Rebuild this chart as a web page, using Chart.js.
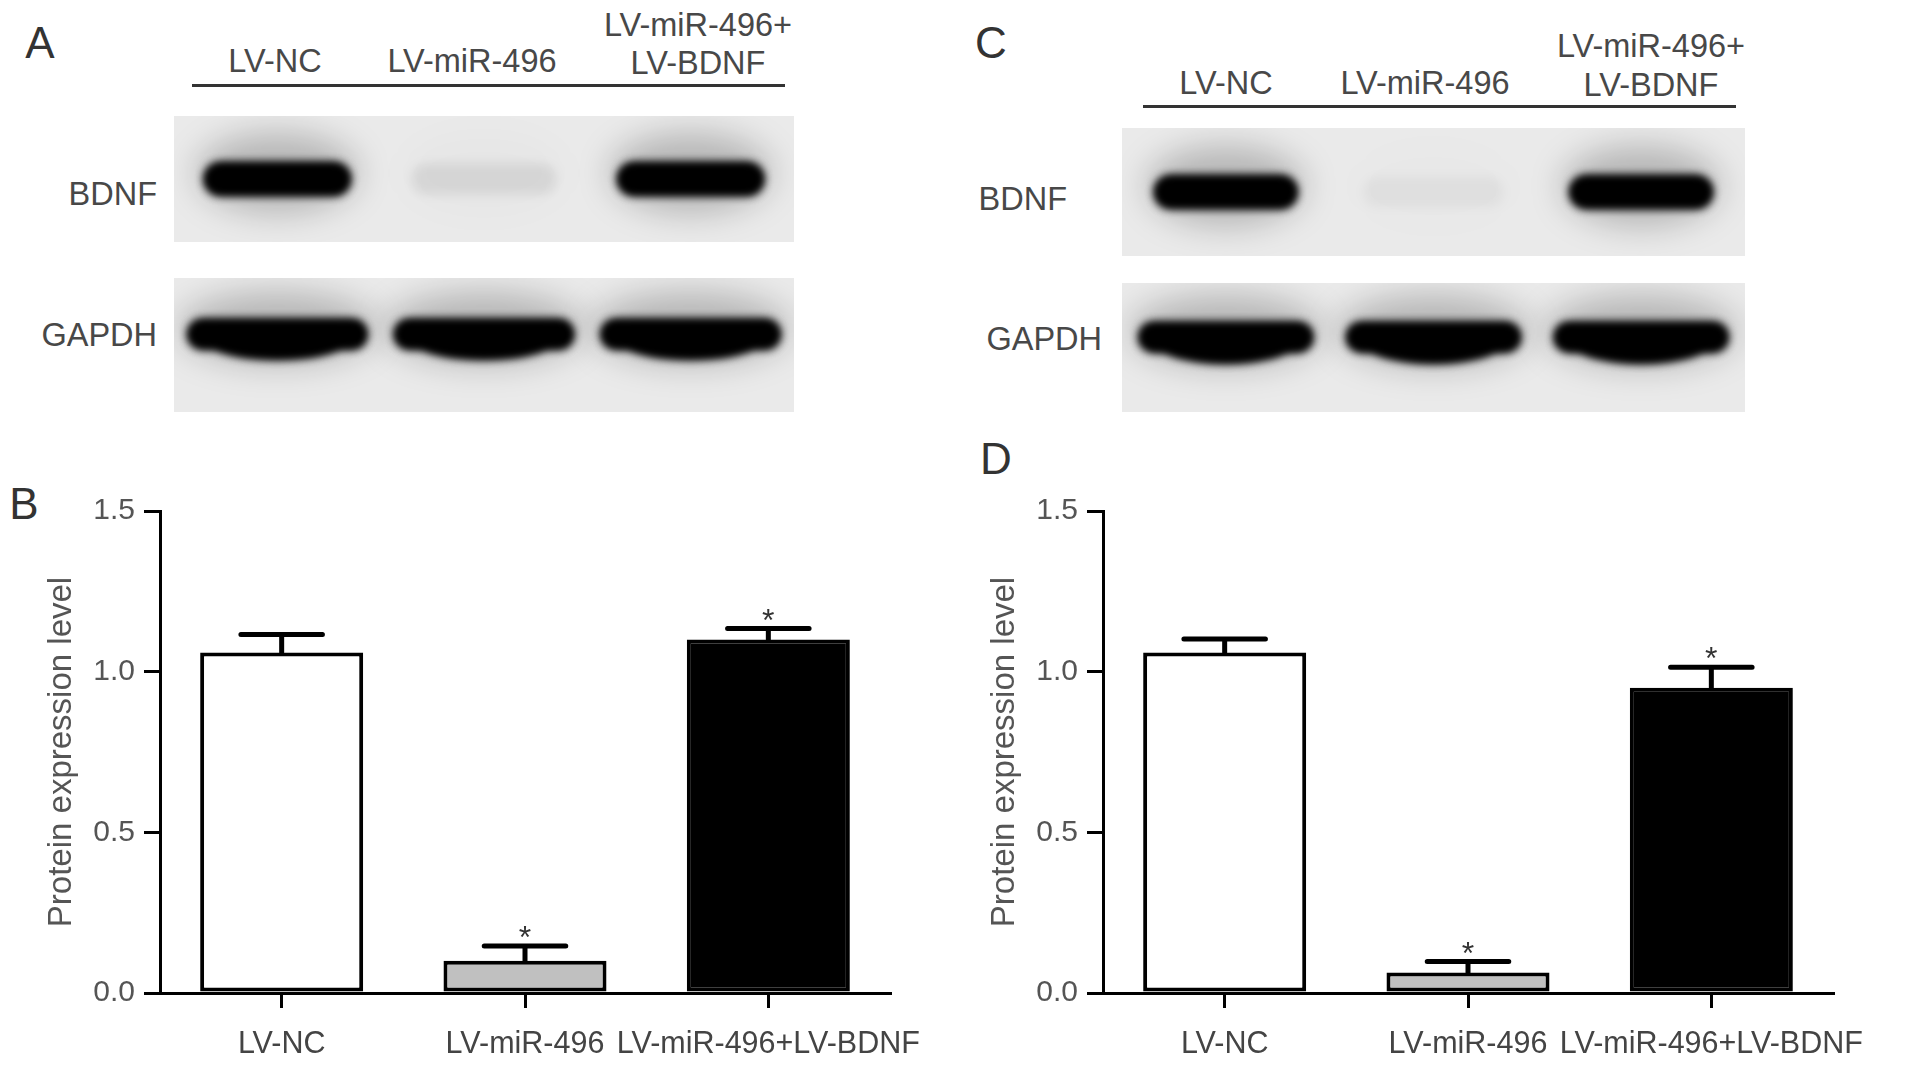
<!DOCTYPE html>
<html>
<head>
<meta charset="utf-8">
<script src="https://cdn.jsdelivr.net/npm/chart.js"></script>
<style>
    body { margin: 0; width: 1913px; height: 1067px; background: #fff; position: relative; overflow: hidden;
           font-family: "Liberation Sans", Arial, sans-serif; color: #484848; }
    canvas { position: absolute; }
    .txt { position: absolute; white-space: nowrap; line-height: 1; transform: translate(-50%, -50%); }
    .right { transform: translate(-100%, -50%); }
    .letter { font-size: 44px; color: #333; }
    .lane { font-size: 32.5px; }
    .prot { font-size: 32.5px; }
    .rule { position: absolute; height: 3px; background: #333; }
</style>
</head>
<body>

<!-- panel A -->
<div class="txt letter" style="left:40px; top:43px;">A</div>
<div class="txt lane" style="left:275px; top:61px;">LV-NC</div>
<div class="txt lane" style="left:472px; top:61px;">LV-miR-496</div>
<div class="txt lane" style="left:698px; top:25px;">LV-miR-496+</div>
<div class="txt lane" style="left:698px; top:63px;">LV-BDNF</div>
<div class="rule" style="left:192px; top:84px; width:593px;"></div>
<div class="txt prot right" style="left:157px; top:194px;">BDNF</div>
<div class="txt prot right" style="left:157px; top:335px;">GAPDH</div>
<canvas id="blotA1" width="620" height="126" style="left:174px; top:116px;"></canvas>
<canvas id="blotA2" width="620" height="134" style="left:174px; top:278px;"></canvas>

<!-- panel C -->
<div class="txt letter" style="left:991px; top:43px;">C</div>
<div class="txt lane" style="left:1226px; top:83px;">LV-NC</div>
<div class="txt lane" style="left:1425px; top:83px;">LV-miR-496</div>
<div class="txt lane" style="left:1651px; top:46px;">LV-miR-496+</div>
<div class="txt lane" style="left:1651px; top:85px;">LV-BDNF</div>
<div class="rule" style="left:1143px; top:105px; width:593px;"></div>
<div class="txt prot right" style="left:1067px; top:199px;">BDNF</div>
<div class="txt prot right" style="left:1102px; top:339px;">GAPDH</div>
<canvas id="blotC1" width="623" height="128" style="left:1122px; top:128px;"></canvas>
<canvas id="blotC2" width="623" height="129" style="left:1122px; top:283px;"></canvas>

<!-- panels B and D -->
<div class="txt letter" style="left:24px; top:504px;">B</div>
<div class="txt letter" style="left:996px; top:459px;">D</div>
<canvas id="chartB" width="960" height="587" style="left:0px; top:480px;"></canvas>
<canvas id="chartD" width="960" height="587" style="left:943px; top:480px;"></canvas>

<script>
// ========== DATA ==========
const groups = ['LV-NC', 'LV-miR-496', 'LV-miR-496+LV-BDNF'];
const yTicks = [0, 0.5, 1.0, 1.5];

// panel B (quantification of blot A)
const meanB = [1.06, 0.10, 1.10];
const errB = [0.056, 0.046, 0.034];
const sigB = ['', '*', '*'];

// panel D (quantification of blot C)
const meanD = [1.06, 0.064, 0.95];
const errD = [0.042, 0.034, 0.064];
const sigD = ['', '*', '*'];

// band signal on the blots (0 = none, 1 = saturated)
const bdnfA = [1, 0.07, 1];
const gapdhA = [1, 1, 1];
const bdnfC = [1, 0.035, 1];
const gapdhC = [1, 1, 1];

const FONT = '"Liberation Sans", Arial, sans-serif';

// ========== BLOT STRIPS ==========
const blotPlugin = {
    id: 'blotBands',
    beforeDatasetsDraw(chart, args, opts) {
        const { ctx, chartArea: a } = chart;
        const meta = chart.getDatasetMeta(0);
        const values = chart.data.datasets[0].data;
        ctx.save();
        ctx.fillStyle = '#eaeaea';
        ctx.fillRect(a.left, a.top, a.right - a.left, a.bottom - a.top);
        const yc = a.top + (a.bottom - a.top) * opts.level;
        const h = opts.thickness;
        meta.data.forEach((bar, i) => {
            const s = values[i];
            const w = bar.width;
            // soft halo round the band
            ctx.filter = 'blur(16px)';
            ctx.fillStyle = 'rgba(0,0,0,' + (0.22 * s) + ')';
            ctx.beginPath();
            ctx.ellipse(bar.x, yc - 6, w * 0.56, h * 1.3, 0, 0, Math.PI * 2);
            ctx.fill();
            // band core
            ctx.filter = 'blur(5px)';
            ctx.fillStyle = 'rgba(0,0,0,' + s + ')';
            ctx.beginPath();
            ctx.roundRect(bar.x - w / 2, yc - h / 2, w, h, h / 2);
            if (opts.bow) {
                ctx.moveTo(bar.x + w * 0.43, yc);
                ctx.ellipse(bar.x, yc, w * 0.43, h / 2 + opts.bow, 0, 0, Math.PI);
            }
            ctx.fill();
            if (s > 0.5) ctx.fill();
        });
        ctx.restore();
    }
};

function makeBlot(id, signal, width, level, thickness, bow) {
    return new Chart(document.getElementById(id), {
        type: 'bar',
        data: {
            labels: groups,
            datasets: [{
                data: signal,
                backgroundColor: 'rgba(0,0,0,0)',
                barPercentage: width,
                categoryPercentage: 1
            }]
        },
        options: {
            responsive: false,
            animation: false,
            events: [],
            layout: { padding: 0 },
            plugins: {
                legend: { display: false },
                tooltip: { enabled: false },
                blotBands: { level: level, thickness: thickness, bow: bow }
            },
            scales: {
                x: { display: false },
                y: { display: false, min: 0, max: 1 }
            }
        },
        plugins: [blotPlugin]
    });
}

makeBlot('blotA1', bdnfA, 0.7, 0.5, 31, 0);
makeBlot('blotA2', gapdhA, 0.86, 0.42, 28, 10);
makeBlot('blotC1', bdnfC, 0.68, 0.5, 31, 0);
makeBlot('blotC2', gapdhC, 0.83, 0.42, 28, 11);

// ========== BAR CHARTS ==========
const errorBarPlugin = {
    id: 'errorBars',
    afterDatasetsDraw(chart, args, opts) {
        const { ctx } = chart;
        const yScale = chart.scales.y;
        const meta = chart.getDatasetMeta(0);
        const values = chart.data.datasets[0].data;
        ctx.save();
        ctx.strokeStyle = '#000';
        ctx.lineWidth = 5;
        ctx.lineCap = 'round';
        meta.data.forEach((bar, i) => {
            const top = yScale.getPixelForValue(values[i] + opts.errors[i]);
            const half = bar.width * 0.25;
            ctx.beginPath();
            ctx.moveTo(bar.x, bar.y);
            ctx.lineTo(bar.x, top);
            ctx.moveTo(bar.x - half, top);
            ctx.lineTo(bar.x + half, top);
            ctx.stroke();
            if (opts.marks[i]) {
                ctx.fillStyle = '#333';
                ctx.font = '32px ' + FONT;
                ctx.textAlign = 'center';
                ctx.textBaseline = 'alphabetic';
                ctx.fillText(opts.marks[i], bar.x, top + 2);
            }
        });
        ctx.restore();
    }
};

function makeBars(id, means, errors, marks) {
    return new Chart(document.getElementById(id), {
        type: 'bar',
        data: {
            labels: groups,
            datasets: [{
                data: means,
                backgroundColor: ['#ffffff', '#c0c0c0', '#000000'],
                borderColor: '#000',
                borderWidth: 4,
                borderSkipped: false,
                barPercentage: 0.67,
                categoryPercentage: 1
            }]
        },
        options: {
            responsive: false,
            animation: false,
            events: [],
            layout: { padding: { top: 31, right: 70, left: 0, bottom: 0 } },
            plugins: {
                legend: { display: false },
                tooltip: { enabled: false },
                errorBars: { errors: errors, marks: marks }
            },
            scales: {
                x: {
                    afterFit: scale => { scale.height = 74; },
                    border: { color: '#000', width: 3 },
                    grid: { offset: false, drawOnChartArea: false, drawTicks: true, tickLength: 15, color: '#000', lineWidth: 3 },
                    ticks: { color: '#444', padding: 18, autoSkip: false, maxRotation: 0, minRotation: 0,
                             font: { family: FONT, size: 30.5 } }
                },
                y: {
                    min: 0,
                    max: 1.5,
                    afterFit: scale => { scale.width = 160; },
                    afterBuildTicks: scale => { scale.ticks = yTicks.map(v => ({ value: v })); },
                    border: { color: '#000', width: 3 },
                    grid: { drawOnChartArea: false, drawTicks: true, tickLength: 16, color: '#000', lineWidth: 3 },
                    ticks: { color: '#555', padding: 9, font: { family: FONT, size: 30 }, callback: v => v.toFixed(1) },
                    title: {
                        display: true,
                        text: 'Protein expression level',
                        color: '#555',
                        font: { family: FONT, size: 33 },
                        padding: { top: 42, bottom: 0 }
                    }
                }
            }
        },
        plugins: [errorBarPlugin]
    });
}

makeBars('chartB', meanB, errB, sigB);
makeBars('chartD', meanD, errD, sigD);
</script>
</body>
</html>
